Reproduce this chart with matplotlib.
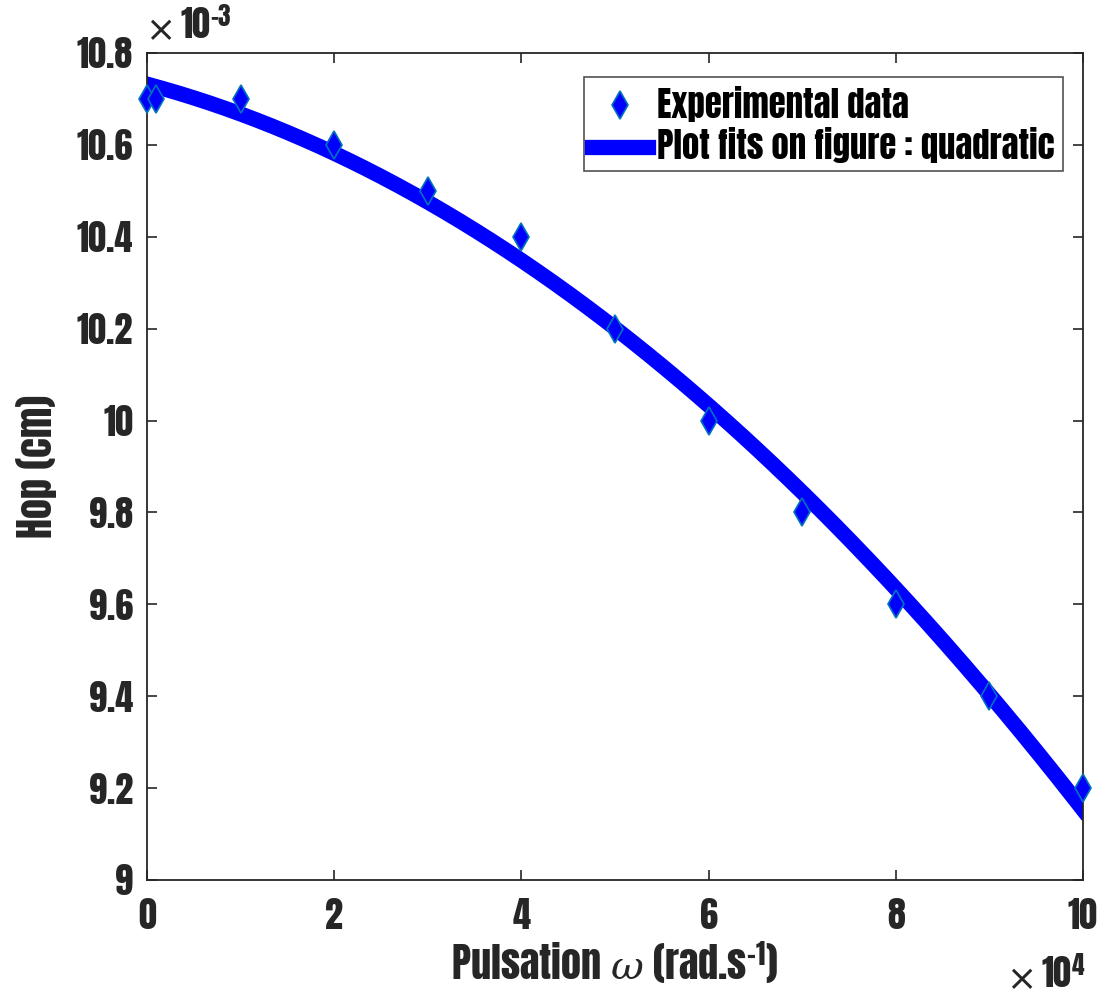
import numpy as np
import matplotlib
matplotlib.use('Agg')
from matplotlib import pyplot as plt
from matplotlib.ticker import FuncFormatter, MultipleLocator

# experimental points
omega = [0, 1000, 10000, 20000, 30000, 40000, 50000, 60000, 70000, 80000, 90000, 100000]
hop = [10.7e-3, 10.7e-3, 10.7e-3, 10.6e-3, 10.5e-3, 10.4e-3, 10.2e-3,
       10.0e-3, 9.8e-3, 9.6e-3, 9.4e-3, 9.2e-3]

plt.rcParams['font.family'] = ['Anton', 'Roboto Condensed', 'DejaVu Sans']
plt.rcParams['mathtext.fontset'] = 'custom'
plt.rcParams['mathtext.rm'] = 'Anton'
plt.rcParams['mathtext.bf'] = 'Anton'
plt.rcParams['mathtext.it'] = 'DejaVu Serif:italic'

dark = (0.15, 0.15, 0.15)

fig = plt.figure(figsize=(11.06, 9.97), dpi=100)
ax = fig.add_axes([0.1329, 0.1174, 0.8463, 0.8295])

# quadratic fit, like the "Plot fits" tool
coef = np.polyfit(omega, hop, 2)
xf = np.linspace(min(omega), max(omega), 300)
ax.plot(xf, np.polyval(coef, xf), '-', color=(0, 0, 1), lw=11,
        label='Plot fits on figure : quadratic', zorder=2)
ax.plot(omega, hop, 'd', ms=14, markerfacecolor=(0, 0, 1),
        markeredgecolor=(0, 0.45, 0.74), markeredgewidth=1.2,
        label='Experimental data', zorder=3, clip_on=False)

ax.set_xlim(0, 100000)
ax.set_ylim(9e-3, 10.8e-3)
ax.xaxis.set_major_locator(MultipleLocator(20000))
ax.yaxis.set_major_locator(MultipleLocator(0.2e-3))
ax.xaxis.set_major_formatter(FuncFormatter(lambda v, p: '%g' % round(v / 1e4, 3)))
ax.yaxis.set_major_formatter(FuncFormatter(lambda v, p: '%g' % round(v / 1e-3, 3)))

ax.tick_params(direction='in', length=7, width=1.2, colors=dark,
               labelsize=26, top=True, right=True)
ax.tick_params(axis='x', pad=13)
ax.tick_params(axis='y', pad=10)
for s in ax.spines.values():
    s.set_color(dark)
    s.set_linewidth(1.3)

ax.set_xlabel(r'Pulsation $\omega$ (rad.s$^{\mathrm{-1}}$)', fontsize=29,
              color=dark, labelpad=5)
ax.set_ylabel('Hop (cm)', fontsize=29, color=dark, labelpad=14)

# exponent labels, MATLAB style: thin "x" then bold 10^n
t1 = ax.text(0.035, 1.012, r'$\mathrm{10}^{\mathrm{-3}}$', transform=ax.transAxes,
             fontsize=26, color=dark, ha='left', va='bottom')
ax.annotate('×', xy=(0, 0.3), xycoords=t1, xytext=(-3, 0), textcoords='offset points',
            ha='right', va='center', fontsize=26, color=dark, family='DejaVu Sans')
t2 = ax.text(1.002, -0.088, r'$\mathrm{10}^{\mathrm{4}}$', transform=ax.transAxes,
             fontsize=26, color=dark, ha='right', va='top')
ax.annotate('×', xy=(0, 0.3), xycoords=t2, xytext=(-3, 0), textcoords='offset points',
            ha='right', va='center', fontsize=26, color=dark, family='DejaVu Sans')

handles, labels = ax.get_legend_handles_labels()
leg = ax.legend(handles[::-1], labels[::-1], loc='upper right',
                bbox_to_anchor=(0.9786, 0.9710), fontsize=25, frameon=True,
                fancybox=False, edgecolor=dark, handlelength=1.6,
                handletextpad=0.25, borderpad=0.25, labelspacing=0.15,
                borderaxespad=0)
leg.get_frame().set_linewidth(1.2)
for t in leg.get_texts():
    t.set_color('black')

fig.savefig('out.png', dpi=100)
